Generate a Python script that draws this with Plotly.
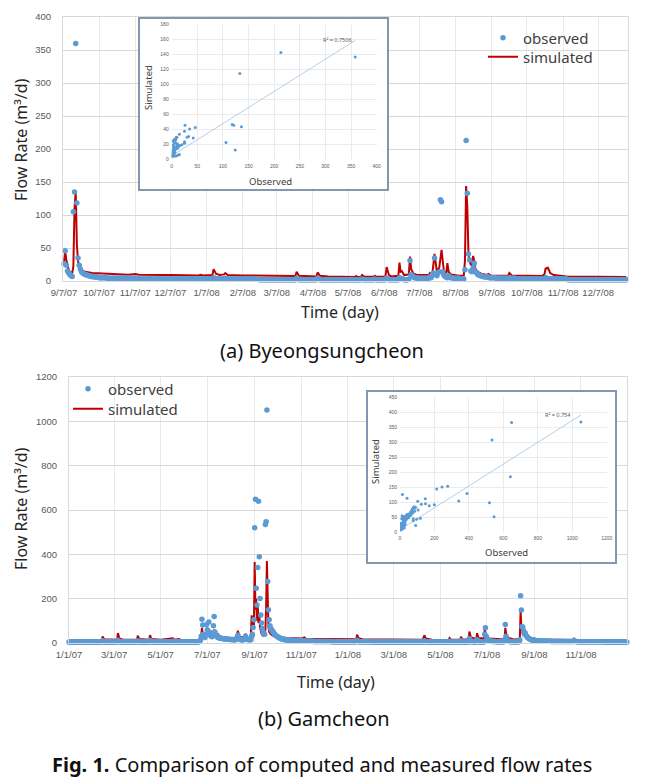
import pandas as pd
import plotly.graph_objects as go

# page is 648x783; the browser body keeps an 8px margin, so the figure is drawn 8px smaller
PAGE_W, PAGE_H, OFF = 648, 783, 8
W, H = PAGE_W - OFF, PAGE_H - OFF

# ---------------- (a) Byeongsungcheon : daily observed flow (m3/d) from 2007-09-07 ----------------
start_a = "2007-09-07"
obs_a = (
    [26,46,24,15,12,10,8,7,105,135, 360,118,35,24,18,14,12,11,10,9, 9,8,8,7] +                     # Sep 07 (24)
    [7,7,6,6,6,6,5,5,5,5, 5,5,5,4,4,4,4,4,4,4, 4,4,4,4,4,4,4,4,4,4, 4] +                         # Oct 07
    [4,4,4,4,4,4,4,4,3,3, 3,3,3,3,3,3,3,3,3,3, 3,3,3,3,3,3,3,3,3,3] +                            # Nov 07
    [3,3,3,3,3,3,3,3,3,3, 3,3,3,3,3,3,3,3,3,3, 3,3,3,3,3,3,3,3,3,3, 3] +                         # Dec 07
    [3,3,3,3,3,3,3,3,3,3, 3,3,5,4,3,3,3,3,3,3, 3,3,4,3,3,3,3,3,3,3, 3] +                         # Jan 08
    [3,3,3,3,3,3,3,3,3,3, 3,3,3,3,3,3,3,3,3,3, 2,2,2,2,2,2,2,2,2] +                              # Feb 08 (29)
    [2,2,2,2,2,2,2,2,2,2, 2,2,2,2,2,2,2,2,2,2, 2,2,2,4,3,2,2,2,2,2, 2] +                         # Mar 08
    [2,2,2,2,2,2,2,2,2,2, 4,3,2,2,2,2,2,2,2,2, 2,2,2,2,2,2,2,2,2,2] +                            # Apr 08
    [2,2,2,2,2,2,2,2,2,2, 2,2,2,2,2,2,2,2,3,2, 2,2,2,2,2,2,2,2,2,3, 2] +                         # May 08
    [2,2,2,2,2,2,2,2,4,3, 2,2,2,2,2,2,2,2,2,5, 4,3,3,2,2,2,2,3,31,10] +                          # Jun 08
    [8,6,5,5,4,4,4,4,4,4, 4,4,4,4,4,6,5,9,12,35, 10,8,12,14,123,120,14,9,7,6, 5] +               # Jul 08
    [8,6,5,5,4,4,4,4,4,4, 3,3,3,3,17,213,133,41,32,15, 14,20,27,14,12,10,9,8,8,7, 7] +           # Aug 08
    [6,6,6,6,5,5,5,5,5,5, 4,4,4,4,4,4,4,4,4,4, 4,4,4,4,4,4,4,3,3,3] +                            # Sep 08
    [3,3,3,3,3,3,3,3,3,3, 3,3,3,3,3,3,3,3,3,3, 3,3,5,4,3,3,3,3,3,3, 3] +                         # Oct 08
    [3,3,3,3,3,3,3,3,3,3, 2,2,2,2,2,2,2,2,2,2, 2,2,2,2,2,2,2,2,2,2] +                            # Nov 08
    [2,2,2,2,2,2,2,2,2,2, 2,2,2,2,2,2,2,2,2,2, 2,2,2,2,2,2,2,2,2,2, 2]                           # Dec 08
)
assert len(obs_a) == 482, len(obs_a)

# simulated (a): (date, value)
sim_a = [
    ("2007-09-07", 27), ("2007-09-08", 45), ("2007-09-09", 32), ("2007-09-10", 22), ("2007-09-11", 17),
    ("2007-09-12", 14), ("2007-09-13", 13), ("2007-09-14", 12), ("2007-09-15", 22), ("2007-09-16", 110),
    ("2007-09-17", 136), ("2007-09-18", 55), ("2007-09-19", 30), ("2007-09-20", 22), ("2007-09-22", 17),
    ("2007-09-25", 14), ("2007-10-01", 12), ("2007-10-10", 11), ("2007-10-20", 10), ("2007-11-01", 9.5),
    ("2007-11-07", 10.5), ("2007-11-10", 9.5), ("2007-12-01", 9), ("2007-12-06", 9.5), ("2007-12-08", 9),
    ("2007-12-31", 8.5), ("2008-01-02", 9.5), ("2008-01-04", 8.5), ("2008-01-12", 9), ("2008-01-13", 18),
    ("2008-01-15", 11), ("2008-01-18", 9), ("2008-01-22", 10), ("2008-01-23", 12), ("2008-01-25", 9),
    ("2008-02-07", 8.5), ("2008-03-01", 7.5), ("2008-03-23", 7.5), ("2008-03-24", 14), ("2008-03-26", 8),
    ("2008-04-10", 7), ("2008-04-11", 13), ("2008-04-13", 8), ("2008-04-20", 7), ("2008-05-13", 6),
    ("2008-05-14", 7.5), ("2008-05-15", 6), ("2008-05-18", 6), ("2008-05-19", 9), ("2008-05-21", 6.5),
    ("2008-05-29", 6.5), ("2008-05-30", 8), ("2008-05-31", 6.5), ("2008-06-08", 7), ("2008-06-09", 21),
    ("2008-06-11", 9), ("2008-06-13", 7), ("2008-06-19", 8), ("2008-06-20", 28), ("2008-06-21", 14),
    ("2008-06-22", 15), ("2008-06-24", 9), ("2008-06-28", 10), ("2008-06-29", 37), ("2008-06-30", 18),
    ("2008-07-02", 11), ("2008-07-05", 9), ("2008-07-15", 9), ("2008-07-16", 12), ("2008-07-18", 9),
    ("2008-07-20", 41), ("2008-07-21", 22), ("2008-07-22", 14), ("2008-07-23", 18), ("2008-07-24", 20),
    ("2008-07-26", 47), ("2008-07-27", 24), ("2008-07-28", 15), ("2008-07-30", 12), ("2008-07-31", 27),
    ("2008-08-01", 14), ("2008-08-03", 10), ("2008-08-10", 8), ("2008-08-14", 8), ("2008-08-15", 30),
    ("2008-08-16", 144), ("2008-08-17", 114), ("2008-08-18", 42), ("2008-08-19", 30), ("2008-08-20", 25),
    ("2008-08-21", 24), ("2008-08-22", 38), ("2008-08-23", 30), ("2008-08-24", 18), ("2008-08-26", 14),
    ("2008-08-29", 11), ("2008-09-03", 9), ("2008-09-04", 10.5), ("2008-09-06", 8.5), ("2008-09-21", 8),
    ("2008-09-22", 12), ("2008-09-24", 8.5), ("2008-10-20", 7.5), ("2008-10-22", 10), ("2008-10-23", 19),
    ("2008-10-25", 20), ("2008-10-27", 12), ("2008-10-30", 9), ("2008-11-10", 7), ("2008-12-01", 6.5),
    ("2008-12-31", 6),
]
ticks_a = ["2007-09-07", "2007-10-07", "2007-11-07", "2007-12-07", "2008-01-07", "2008-02-07",
           "2008-03-07", "2008-04-07", "2008-05-07", "2008-06-07", "2008-07-07", "2008-08-07",
           "2008-09-07", "2008-10-07", "2008-11-07", "2008-12-07"]
ticklabels_a = ["9/7/07", "10/7/07", "11/7/07", "12/7/07", "1/7/08", "2/7/08", "3/7/08", "4/7/08",
                "5/7/08", "6/7/08", "7/7/08", "8/7/08", "9/7/08", "10/7/08", "11/7/08", "12/7/08"]

# inset (a): observed vs simulated
sc_a_obs = [358, 213, 133, 118, 121, 136, 106, 124, 46, 26,
            25, 35, 30, 33, 42, 25, 25, 15, 10, 8,
            5, 12, 15, 20, 6, 5, 3, 2, 3, 1,
            2, 4, 5, 8, 12, 15, 10, 8, 7, 6,
            4, 3, 2, 1, 3, 5, 7, 9, 11, 13,
            2, 4, 6, 1, 2, 9, 11, 16, 3, 6]
sc_a_sim = [137, 143, 115, 47, 46, 44, 23, 13, 43, 46,
            38, 41, 30, 31, 29, 24, 22, 34, 30, 28,
            27, 20, 19, 20, 22, 17, 15, 10, 8, 5,
            6, 12, 5, 5, 6, 7, 18, 16, 14, 12,
            9, 7, 6, 4, 20, 24, 26, 30, 15, 17,
            25, 18, 10, 8, 13, 22, 21, 19, 11, 9]
trend_a_x = [2, 358]
trend_a_y = [6, 159]
r2_a = "R² = 0.7506"

# ---------------- (b) Gamcheon : daily observed flow from 2007-01-01 ----------------
start_b = "2007-01-01"
obs_b = (
    [5,5,5,5,5,5,5,5,5,5, 5,5,5,5,5,5,5,5,5,5, 5,5,5,5,5,5,5,5,5,5, 5] +                         # Jan 07
    [5,5,5,5,5,5,5,5,5,5, 5,5,5,10,7,5,5,5,5,5, 5,5,5,5,5,5,5,5] +                               # Feb 07 (28)
    [5,5,5,5,5,12,8,6,5,5, 5,5,5,5,5,5,5,5,5,5, 5,5,5,5,5,5,5,5,5,5, 5] +                        # Mar 07
    [10,7,5,5,5,5,5,5,5,5, 5,5,5,5,5,5,12,7,5,5, 5,5,5,5,5,5,5,5,5,5] +                          # Apr 07
    [5,5,5,5,5,5,5,5,5,5, 5,5,5,5,5,5,8,6,5,5, 5,5,5,5,5,5,5,5,5,5, 5] +                         # May 07
    [5,5,5,5,5,5,5,5,5,5, 5,5,5,5,5,5,5,5,5,6, 8,12,30,107,81,40,30,25,40,84] +                  # Jun 07
    [60,45,95,50,35,30,28,40,78,119, 50,35,30,28,25,24,23,22,21,20, 20,19,19,18,18,18,17,17,17,16, 16] +   # Jul 07
    [16,16,16,15,15,15,15,18,25,35, 22,18,16,15,15,15,15,16,22,30, 20,17,16,15,15,15,15,30,40,70, 105] +  # Aug 07
    [520,648,247,171,341,640,389,201,126,90, 65,50,42,40,535,547,1051,277,150,105, 78,65,60,55,50,45,40,36,33,30] +  # Sep 07
    [28,26,24,22,20,19,18,17,16,16, 15,15,14,14,13,13,12,12,12,11, 11,11,10,10,10,10,9,9,9,9, 9] +   # Oct 07
    [9,9,9,9,9,8,8,8,8,8, 8,8,8,8,8,8,7,7,7,7, 7,7,7,7,7,7,7,7,7,7] +                            # Nov 07
    [7,7,7,7,7,7,7,7,7,7, 6,6,6,6,6,6,6,6,6,6, 6,6,6,6,6,6,6,6,6,6, 6] +                         # Dec 07
    [6,6,6,6,6,6,6,6,6,6, 6,6,12,8,6,6,6,6,6,6, 6,6,6,6,6,6,6,6,6,6, 6] +                        # Jan 08
    [5,5,5,5,5,5,5,5,5,5, 5,5,5,5,5,5,5,5,5,5, 5,5,5,5,5,5,5,5,5] +                              # Feb 08 (29)
    [5,5,5,5,5,5,5,5,5,5, 5,5,5,5,5,5,5,5,5,5, 5,5,5,5,5,5,5,5,5,5, 5] +                         # Mar 08
    [5,5,5,5,5,5,5,5,5,10, 7,5,5,5,5,5,5,5,5,5, 5,5,5,5,5,5,5,5,5,5] +                           # Apr 08
    [5,5,5,5,5,5,5,5,5,5, 5,5,8,6,5,5,5,5,5,5, 5,5,5,5,5,5,5,10,7,5, 5] +                        # May 08
    [5,5,5,5,5,5,5,20,12,7, 6,5,5,5,5,5,5,15,9,6, 5,5,5,5,5,5,5,40,69,30] +                      # Jun 08
    [20,15,12,10,9,8,8,7,7,7, 7,7,6,6,6,6,6,6,6,6, 6,6,6,15,84,30,15,10,8,7, 7] +                # Jul 08
    [6,6,6,6,6,6,6,6,6,6, 6,6,15,213,149,75,70,50,40,45, 35,30,25,22,20,18,16,15,14,13, 12] +    # Aug 08
    [12,11,11,10,10,10,9,9,9,9, 9,8,8,8,8,8,8,8,8,8, 8,8,7,7,7,7,7,7,7,7] +                      # Sep 08
    [7,7,7,7,7,7,7,7,7,7, 7,7,7,7,7,7,7,7,7,7, 7,7,10,8,7,7,6,6,6,6, 6] +                        # Oct 08
    [6,6,6,6,6,6,6,6,6,6, 6,6,6,6,6,6,6,6,6,6, 6,6,6,6,6,6,6,6,6,6] +                            # Nov 08
    [5,5,5,5,5,5,5,5,5,5, 5,5,5,5,5,5,5,5,5,5, 5,5,5,5,5,5,5,5,5,5, 5]                           # Dec 08
)
assert len(obs_b) == 731, len(obs_b)

sim_b = [
    ("2007-01-01", 14), ("2007-02-13", 14), ("2007-02-14", 30), ("2007-02-16", 17), ("2007-03-05", 15),
    ("2007-03-06", 45), ("2007-03-08", 20), ("2007-03-12", 16), ("2007-03-31", 15), ("2007-04-01", 33),
    ("2007-04-03", 18), ("2007-04-16", 15), ("2007-04-17", 35), ("2007-04-19", 18), ("2007-05-01", 15),
    ("2007-05-17", 21), ("2007-05-19", 15), ("2007-05-25", 18), ("2007-05-27", 14), ("2007-06-20", 14),
    ("2007-06-23", 30), ("2007-06-24", 68), ("2007-06-25", 40), ("2007-06-27", 30), ("2007-06-30", 35),
    ("2007-07-02", 55), ("2007-07-04", 35), ("2007-07-08", 40), ("2007-07-10", 60), ("2007-07-12", 35),
    ("2007-07-15", 40), ("2007-07-18", 25), ("2007-07-25", 22), ("2007-08-01", 20), ("2007-08-08", 25),
    ("2007-08-10", 55), ("2007-08-12", 30), ("2007-08-16", 25), ("2007-08-19", 30), ("2007-08-20", 42),
    ("2007-08-22", 25), ("2007-08-26", 20), ("2007-08-27", 30), ("2007-08-28", 125), ("2007-08-29", 60),
    ("2007-08-30", 120), ("2007-08-31", 80), ("2007-09-01", 365), ("2007-09-02", 150), ("2007-09-03", 200),
    ("2007-09-04", 100), ("2007-09-05", 170), ("2007-09-06", 90), ("2007-09-07", 130), ("2007-09-08", 70),
    ("2007-09-09", 50), ("2007-09-10", 40), ("2007-09-12", 32), ("2007-09-14", 35), ("2007-09-15", 60),
    ("2007-09-16", 160), ("2007-09-17", 370), ("2007-09-18", 130), ("2007-09-19", 70), ("2007-09-20", 50),
    ("2007-09-22", 40), ("2007-09-25", 32), ("2007-10-01", 26), ("2007-10-15", 22), ("2007-11-01", 20),
    ("2007-11-05", 25), ("2007-11-07", 19), ("2007-12-01", 18), ("2007-12-31", 17), ("2008-01-12", 17),
    ("2008-01-13", 38), ("2008-01-15", 22), ("2008-01-20", 17), ("2008-02-15", 16), ("2008-03-15", 15),
    ("2008-04-08", 15), ("2008-04-10", 35), ("2008-04-12", 20), ("2008-04-20", 15), ("2008-05-12", 14),
    ("2008-05-13", 22), ("2008-05-15", 15), ("2008-05-27", 15), ("2008-05-28", 28), ("2008-05-30", 17),
    ("2008-06-07", 16), ("2008-06-08", 52), ("2008-06-10", 25), ("2008-06-17", 18), ("2008-06-18", 44),
    ("2008-06-20", 22), ("2008-06-27", 20), ("2008-06-28", 62), ("2008-06-30", 30), ("2008-07-05", 20),
    ("2008-07-24", 16), ("2008-07-25", 68), ("2008-07-27", 25), ("2008-08-05", 16), ("2008-08-13", 18),
    ("2008-08-14", 148), ("2008-08-15", 70), ("2008-08-17", 45), ("2008-08-20", 55), ("2008-08-22", 35),
    ("2008-08-27", 22), ("2008-09-10", 16), ("2008-10-22", 14), ("2008-10-23", 20), ("2008-10-25", 14),
    ("2008-12-31", 12),
]
ticks_b = ["2007-01-01", "2007-03-01", "2007-05-01", "2007-07-01", "2007-09-01", "2007-11-01",
           "2008-01-01", "2008-03-01", "2008-05-01", "2008-07-01", "2008-09-01", "2008-11-01"]
ticklabels_b = ["1/1/07", "3/1/07", "5/1/07", "7/1/07", "9/1/07", "11/1/07",
                "1/1/08", "3/1/08", "5/1/08", "7/1/08", "9/1/08", "11/1/08"]

sc_b_obs = [1050, 648, 534, 641, 546, 519, 389, 341, 277, 244,
            213, 199, 170, 147, 148, 124, 103, 105, 118, 97,
            91, 77, 77, 41, 14, 25, 5, 8, 10, 12,
            15, 18, 20, 22, 25, 28, 30, 35, 40, 45,
            50, 55, 60, 65, 70, 75, 80, 85, 70, 60,
            50, 40, 30, 20, 15, 10, 5, 3, 8, 10,
            15, 12, 20, 25, 35, 45, 55, 65, 75, 85,
            90, 78, 2, 6, 4, 10, 15, 20, 25, 30]
sc_b_sim = [367, 365, 307, 185, 52, 98, 129, 104, 153, 151,
            144, 92, 88, 112, 95, 93, 103, 74, 47, 43,
            23, 45, 38, 113, 126, 14, 10, 15, 20, 25,
            30, 35, 40, 45, 50, 52, 48, 55, 58, 60,
            55, 62, 65, 70, 75, 80, 85, 80, 68, 55,
            48, 45, 35, 30, 20, 12, 8, 10, 30, 45,
            50, 55, 52, 30, 42, 50, 58, 60, 65, 70,
            83, 80, 15, 25, 20, 10, 13, 18, 22, 26]
trend_b_x = [2, 1050]
trend_b_y = [10, 390]
r2_b = "R² = 0.754"

# ---------------- styling ----------------
BLUE = "#5b9bd5"
RED = "#c00000"
GRID = "#d9d9d9"
GRIDV = "#e9e9e9"
TICK = "#595959"
FRAME = "#8497b0"
FONT = "Noto Sans"
TICKFONT = "Liberation Sans"


def px_x(p):
    """page pixel -> paper fraction"""
    return (p - OFF) / W


def px_y(p):
    return 1 - (p - OFF) / H


dates_a = pd.date_range(start_a, periods=len(obs_a), freq="D")
dates_b = pd.date_range(start_b, periods=len(obs_b), freq="D")

fig = go.Figure()

# main (a)
fig.add_trace(go.Scatter(x=[d for d, v in sim_a], y=[v for d, v in sim_a], mode="lines",
                         line=dict(color=RED, width=2), name="simulated",
                         xaxis="x", yaxis="y", legend="legend3"))
fig.add_trace(go.Scatter(x=dates_a, y=obs_a, mode="markers", marker=dict(color=BLUE, size=5.5),
                         name="observed", cliponaxis=False,
                         xaxis="x", yaxis="y", legend="legend"))
# main (b)
fig.add_trace(go.Scatter(x=[d for d, v in sim_b], y=[v for d, v in sim_b], mode="lines",
                         line=dict(color=RED, width=2), name="simulated",
                         xaxis="x2", yaxis="y2", legend="legend4"))
fig.add_trace(go.Scatter(x=dates_b, y=obs_b, mode="markers", marker=dict(color=BLUE, size=5.5),
                         name="observed", cliponaxis=False,
                         xaxis="x2", yaxis="y2", legend="legend2"))
# cover frames for insets
fig.add_trace(go.Scatter(x=[None], y=[None], xaxis="x3", yaxis="y3", showlegend=False, hoverinfo="skip"))
fig.add_trace(go.Scatter(x=[None], y=[None], xaxis="x4", yaxis="y4", showlegend=False, hoverinfo="skip"))
# inset (a)
fig.add_trace(go.Scatter(x=trend_a_x, y=trend_a_y, mode="lines", line=dict(color="#9dc3e6", width=0.8),
                         xaxis="x5", yaxis="y5", showlegend=False))
fig.add_trace(go.Scatter(x=sc_a_obs, y=sc_a_sim, mode="markers", marker=dict(color=BLUE, size=3),
                         xaxis="x5", yaxis="y5", showlegend=False))
# inset (b)
fig.add_trace(go.Scatter(x=trend_b_x, y=trend_b_y, mode="lines", line=dict(color="#9dc3e6", width=0.8),
                         xaxis="x6", yaxis="y6", showlegend=False))
fig.add_trace(go.Scatter(x=sc_b_obs, y=sc_b_sim, mode="markers", marker=dict(color=BLUE, size=3),
                         xaxis="x6", yaxis="y6", showlegend=False))

main_x = dict(type="date", tickmode="array", showgrid=True, gridcolor=GRIDV, showline=True,
              linecolor=GRID, mirror=True, ticks="", zeroline=False, tickangle=0, automargin=False,
              tickfont=dict(family=TICKFONT, size=9.5, color=TICK), ticklabelstandoff=3)
main_y = dict(showgrid=True, gridcolor=GRID, showline=True, linecolor=GRID, mirror=True, ticks="",
              zeroline=False, automargin=False, tickmode="linear", tick0=0,
              tickfont=dict(family=TICKFONT, size=9.5, color=TICK), ticklabelstandoff=9)
cover = dict(range=[0, 1], showgrid=False, zeroline=False, showticklabels=False, showline=True,
             mirror=True, linecolor=FRAME, linewidth=1.5, ticks="", fixedrange=True,
             tickmode="array", tickvals=[], automargin=False)
inset = dict(showgrid=True, gridcolor="#ebebeb", zeroline=False, showline=False, ticks="",
             automargin=False, tickmode="linear", tick0=0,
             tickfont=dict(family=TICKFONT, size=5, color=TICK), ticklabelstandoff=2)


def leg(x_text_px, y_center_px):
    return dict(x=px_x(x_text_px - 40), y=px_y(y_center_px), xanchor="left", yanchor="middle",
                bgcolor="rgba(0,0,0,0)", font=dict(size=15, color="#404040"), itemwidth=30,
                borderwidth=0)


fig.update_layout(
    template="none",
    width=W, height=H, margin=dict(l=0, r=0, t=0, b=0, pad=0), autosize=False,
    paper_bgcolor="white", plot_bgcolor="white",
    font=dict(family=FONT, color="#404040"),
    xaxis=dict(main_x, domain=[px_x(63), px_x(628)], anchor="y",
               range=["2007-09-06 03:30", "2009-01-01 12:00"], tickvals=ticks_a, ticktext=ticklabels_a),
    yaxis=dict(main_y, domain=[px_y(281), px_y(17)], anchor="x", range=[0, 400], dtick=50),
    xaxis2=dict(main_x, domain=[px_x(69), px_x(627)], anchor="y2",
                range=["2007-01-01", "2008-12-31 06:00"], tickvals=ticks_b, ticktext=ticklabels_b),
    yaxis2=dict(main_y, domain=[px_y(643), px_y(377)], anchor="x2", range=[0, 1200], dtick=200),
    xaxis3=dict(cover, domain=[px_x(140), px_x(386.5)], anchor="y3"),
    yaxis3=dict(cover, domain=[px_y(188.5), px_y(19.3)], anchor="x3"),
    xaxis4=dict(cover, domain=[px_x(368), px_x(615)], anchor="y4"),
    yaxis4=dict(cover, domain=[px_y(561.7), px_y(391.7)], anchor="x4"),
    xaxis5=dict(inset, domain=[px_x(171.7), px_x(376.7)], anchor="y5", range=[0, 400], dtick=50),
    yaxis5=dict(inset, domain=[px_y(159.7), px_y(24.7)], anchor="x5", range=[0, 180], dtick=20),
    xaxis6=dict(inset, domain=[px_x(400), px_x(606.7)], anchor="y6", range=[0, 1200], dtick=200),
    yaxis6=dict(inset, domain=[px_y(532.3), px_y(397)], anchor="x6", range=[0, 450], dtick=50),
    legend=leg(523, 38),
    legend3=leg(523, 57),
    legend2=leg(108, 389),
    legend4=leg(108, 409),
    showlegend=True,
)


def ann(text, x, y, size, angle=0, color="#262626", xref="paper", yref="paper"):
    fig.add_annotation(text=text, x=x, y=y, xref=xref, yref=yref, showarrow=False,
                       textangle=angle, xanchor="center", yanchor="middle",
                       font=dict(family=FONT, size=size, color=color))


ann("Flow Rate (m³/d)", px_x(21), px_y(140), 16, -90)
ann("Time (day)", px_x(340), px_y(312), 16)
ann("(a) Byeongsungcheon", px_x(322), px_y(350), 20, color="#111111")
ann("Flow Rate (m³/d)", px_x(21), px_y(509), 16, -90)
ann("Time (day)", px_x(336), px_y(682), 16)
ann("(b) Gamcheon", px_x(324), px_y(718), 20, color="#111111")
ann("<b>Fig. 1.</b> Comparison of computed and measured flow rates", px_x(322), px_y(764), 20, color="#111111")

ann("Simulated", px_x(148), px_y(88), 9.5, -90, color="#404040")
ann("Observed", px_x(270), px_y(181), 9.5, color="#404040")
ann("Simulated", px_x(375), px_y(462), 9.5, -90, color="#404040")
ann("Observed", px_x(506), px_y(552), 9.5, color="#404040")
ann(r2_a, 323, 160, 5.5, color=TICK, xref="x5", yref="y5")
ann(r2_b, 917, 390, 5.5, color=TICK, xref="x6", yref="y6")

fig.write_html("out.html")
